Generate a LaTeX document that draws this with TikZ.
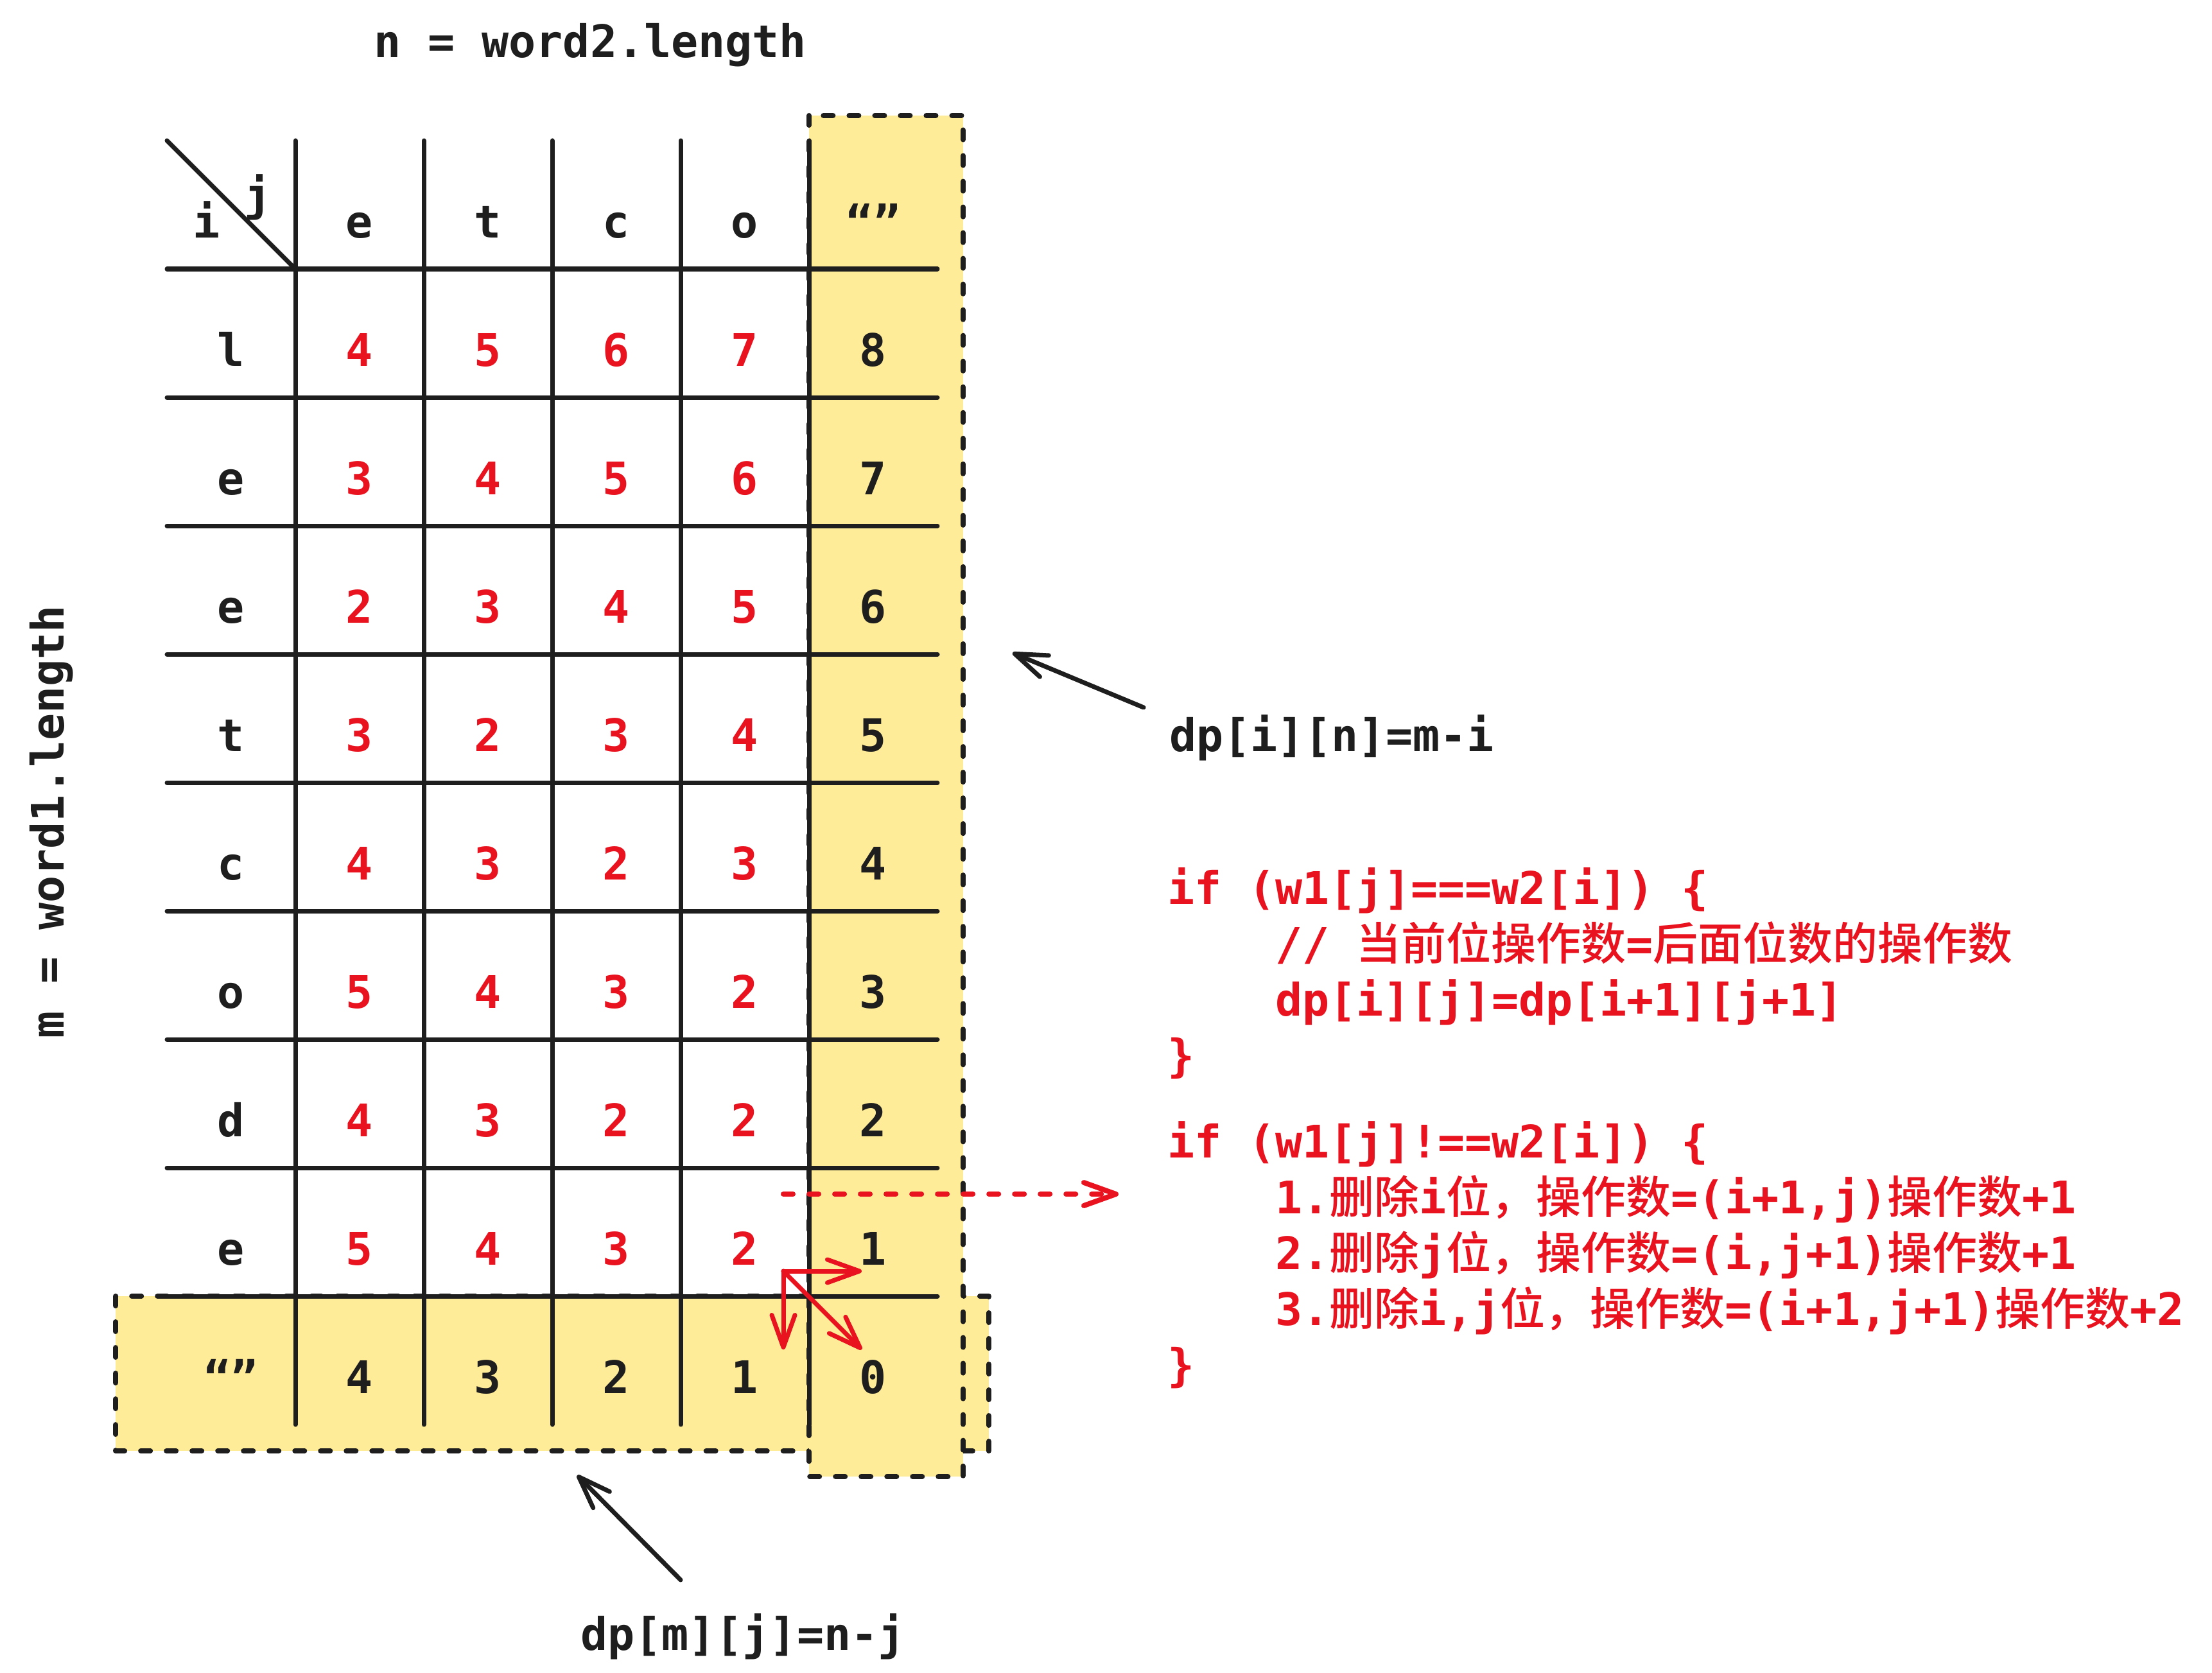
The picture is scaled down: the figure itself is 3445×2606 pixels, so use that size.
\documentclass[tikz,border=0pt]{standalone}
\usepackage{fontspec}
\setmonofont{DejaVu Sans Mono}
\newfontfamily\cjkf{Noto Sans CJK SC Medium}[BoldFont={Noto Sans CJK SC Medium}]
\usetikzlibrary{arrows.meta}
\definecolor{ink}{HTML}{1E1E1E}
\definecolor{hl}{HTML}{FFEC99}
\definecolor{redink}{HTML}{E8131F}
\newcommand\mycode{\ttfamily\bfseries\fontsize{19.9pt}{24pt}\selectfont}
\begin{document}
\begin{tikzpicture}[x=0.01cm,y=-0.01cm,line cap=round,line join=round,
  every node/.style={inner sep=0pt,outer sep=0pt,font=\mycode,text=ink},
  cell/.style={anchor=base},
  redcell/.style={anchor=base,text=redink},
  redt/.style={anchor=base west,text=redink},
  gridline/.style={draw=ink,line width=0.07cm},
  hlbox/.style={fill=hl,draw=ink,line width=0.08cm,dash pattern=on 0.15cm off 0.25cm},
  barb/.style={-{Straight Barb[length=0.5cm,width=0.36cm,round]}}]
\fill[white] (0,0) rectangle (3445,2606);
\useasboundingbox (0,0) rectangle (3445,2606);
% highlighted strips
\path[hlbox] (180,2019) rectangle (1540,2260);
\path[hlbox] (1260,180) rectangle (1500,2300);
% grid
\foreach \k in {1,...,9} \draw[gridline] (260,{219+200*\k}) -- (1460,{219+200*\k});
\foreach \k in {1,...,5} \draw[gridline] ({260+200*\k},219) -- ({260+200*\k},2219);
\draw[gridline] (260,219) -- (460,419);
% titles
\node[anchor=base west] (nlab) at (582,90) {n = word2.length};
\node[rotate=90,anchor=base] (mlab) at (99,1280) {m = word1.length};
% header
\node[cell] (hi) at (322,370) {i};
\node[cell] (hj) at (402,328) {j};
\foreach \ch [count=\c] in {e,t,c,o,“”}
  \node[cell] (h\c) at ({360+200*\c},370) {\ch};
% body rows
\foreach \ch/\a/\b/\cc/\d/\e [count=\k] in {l/4/5/6/7/8,e/3/4/5/6/7,e/2/3/4/5/6,t/3/2/3/4/5,c/4/3/2/3/4,o/5/4/3/2/3,d/4/3/2/2/2,e/5/4/3/2/1}{
  \node[cell] (r\k c0) at (360,{370+200*\k}) {\ch};
  \node[redcell] (r\k c1) at (560,{370+200*\k}) {\a};
  \node[redcell] (r\k c2) at (760,{370+200*\k}) {\b};
  \node[redcell] (r\k c3) at (960,{370+200*\k}) {\cc};
  \node[redcell] (r\k c4) at (1160,{370+200*\k}) {\d};
  \node[cell] (r\k c5) at (1360,{370+200*\k}) {\e};
}
% last row
\foreach \ch [count=\c from 0] in {“”,4,3,2,1,0}
  \node[cell] (r9c\c) at ({360+200*\c},2170) {\ch};
% side labels
\node[anchor=base west] (lblA) at (1821,1170) {dp[i][n]=m-i};
\node[anchor=base west] (lblB) at (904,2570) {dp[m][j]=n-j};
\coordinate (aA0) at (1781,1102);
\coordinate (aA1) at (1577,1017);
\coordinate (aB0) at (1060,2461);
\coordinate (aB1) at (899,2298);
\draw[ink,line width=0.07cm,barb] (aA0) -- (aA1);
\draw[ink,line width=0.07cm,barb] (aB0) -- (aB1);
% red code
\node[redt] (t1) at (1818,1408) {if (w1[j]===w2[i]) \{};
\node[redt] (t2) at (1986,1495) {// {\cjkf 当前位操作数}={\cjkf 后面位数的操作数}};
\node[redt] (t3) at (1986,1582) {dp[i][j]=dp[i+1][j+1]};
\node[redt] (t4) at (1818,1669) {\}};
\node[redt] (t5) at (1818,1803) {if (w1[j]!==w2[i]) \{};
\node[redt] (t6) at (1986,1890) {1.{\cjkf 删除}i{\cjkf 位，操作数}=(i+1,j){\cjkf 操作数}+1};
\node[redt] (t7) at (1986,1977) {2.{\cjkf 删除}j{\cjkf 位，操作数}=(i,j+1){\cjkf 操作数}+1};
\node[redt] (t8) at (1986,2064) {3.{\cjkf 删除}i,j{\cjkf 位，操作数}=(i+1,j+1){\cjkf 操作数}+2};
\node[redt] (t9) at (1818,2151) {\}};
% red arrows
\coordinate (dS) at (1220,1860);
\coordinate (dE) at (1742,1860);
\draw[redink,line width=0.08cm,dash pattern=on 0.15cm off 0.25cm,barb] (dS) -- (dE);
\coordinate (o) at (1220,1980);
\coordinate (oR) at (1342,1980);
\coordinate (oD) at (1220,2102);
\coordinate (oX) at (1342,2102);
\draw[redink,line width=0.07cm,barb] (o) -- (oR);
\draw[redink,line width=0.07cm,barb] (o) -- (oD);
\draw[redink,line width=0.07cm,barb] (o) -- (oX);
\end{tikzpicture}
\end{document}
